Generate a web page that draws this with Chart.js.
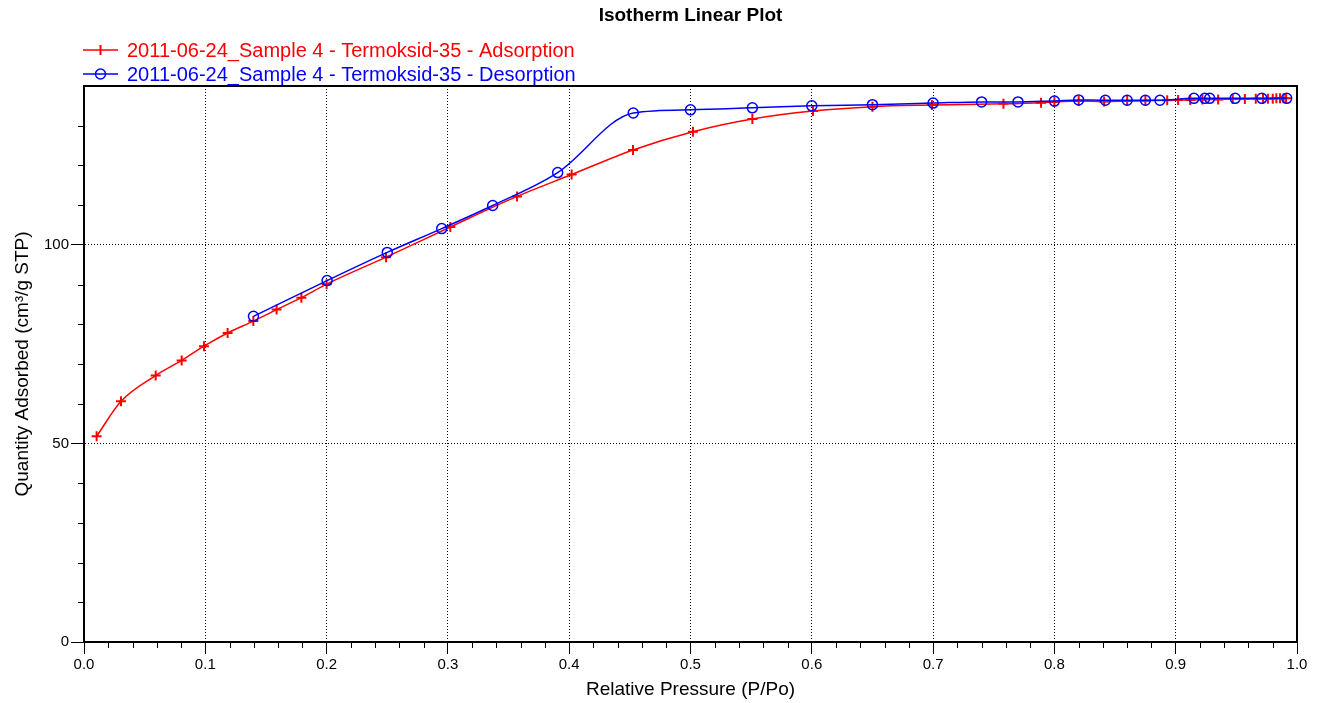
<!DOCTYPE html>
<html>
<head>
<meta charset="utf-8">
<script src="https://cdn.jsdelivr.net/npm/chart.js@4/dist/chart.umd.min.js"></script>
<style>
  body { margin: 0; background: #fff; }
  canvas { display: block; }
</style>
</head>
<body>
<canvas id="grafico" width="1324" height="703"></canvas>
<script>
// datos
const titulo = "Isotherm Linear Plot";
const nombreAds = "2011-06-24_Sample 4 - Termoksid-35 - Adsorption";
const nombreDes = "2011-06-24_Sample 4 - Termoksid-35 - Desorption";

const presionAds = [0.0104, 0.0305, 0.0591, 0.0805, 0.0989, 0.1184, 0.1396, 0.1588, 0.1792, 0.2,
  0.249, 0.302, 0.357, 0.402, 0.4526, 0.502, 0.551, 0.601, 0.65, 0.699,
  0.758, 0.789, 0.8, 0.82, 0.841, 0.86, 0.875, 0.893, 0.902, 0.912,
  0.922, 0.935, 0.947, 0.957, 0.966, 0.972, 0.976, 0.98, 0.983, 0.986, 0.989, 0.991];
const cantidadAds = [51.8, 60.6, 67.1, 70.9, 74.5, 77.8, 80.8, 83.7, 86.7, 90.1,
  96.9, 104.5, 112.2, 117.7, 123.9, 128.5, 131.7, 133.7, 134.8, 135.2,
  135.5, 135.8, 136.0, 136.2, 136.1, 136.2, 136.3, 136.4, 136.5, 136.5,
  136.6, 136.6, 136.7, 136.7, 136.8, 136.8, 136.8, 136.8, 136.9, 136.9, 136.9, 136.9];

const presionDes = [0.1397, 0.2004, 0.25, 0.2949, 0.3369, 0.3905, 0.4528, 0.5, 0.551, 0.6,
  0.65, 0.7, 0.74, 0.77, 0.8, 0.82, 0.842, 0.86, 0.875, 0.887,
  0.915, 0.924, 0.928, 0.949, 0.971, 0.9915];
const cantidadDes = [82.0, 91.0, 98.1, 104.1, 109.9, 118.2, 133.2, 134.0, 134.5, 135.0,
  135.3, 135.7, 136.0, 136.0, 136.2, 136.5, 136.4, 136.4, 136.4, 136.4,
  136.9, 136.9, 136.9, 136.9, 136.9, 136.9];

const ticksX = [0, 0.1, 0.2, 0.3, 0.4, 0.5, 0.6, 0.7, 0.8, 0.9, 1.0];
const ticksY = [0, 50, 100];

const fuente = "'Liberation Sans', Arial, sans-serif";
const rojo = "#ff0000";
const azul = "#0000ff";

function puntos(xs, ys) {
  return xs.map((x, i) => ({ x: x, y: ys[i] }));
}

// ticks menores, marco y leyenda
const extras = {
  id: "extras",
  afterDraw(chart) {
    const ctx = chart.ctx;
    const a = chart.chartArea;
    const sx = chart.scales.x;
    const sy = chart.scales.y;
    ctx.save();
    ctx.strokeStyle = "#000";
    ctx.lineWidth = 1;
    ctx.beginPath();
    for (let i = 1; i < 50; i++) {
      if (i % 5 === 0) continue;
      const px = Math.round(sx.getPixelForValue(i * 0.02)) + 0.5;
      ctx.moveTo(px, a.bottom);
      ctx.lineTo(px, a.bottom + 6);
    }
    for (let v = 10; v < 140; v += 10) {
      if (v % 50 === 0) continue;
      const py = Math.round(sy.getPixelForValue(v)) + 0.5;
      ctx.moveTo(a.left - 6, py);
      ctx.lineTo(a.left, py);
    }
    ctx.stroke();

    ctx.lineWidth = 2;
    ctx.strokeRect(a.left, a.top, a.right - a.left, a.bottom - a.top);

    // titulo
    ctx.fillStyle = "#000";
    ctx.font = "bold 19px " + fuente;
    ctx.textAlign = "center";
    ctx.textBaseline = "middle";
    ctx.fillText(titulo, (a.left + a.right) / 2, 16);

    // leyenda
    ctx.font = "20px " + fuente;
    ctx.textAlign = "left";
    const filas = [
      { y: 50, color: rojo, texto: nombreAds, marca: "cruz" },
      { y: 74, color: azul, texto: nombreDes, marca: "circulo" }
    ];
    filas.forEach(f => {
      ctx.strokeStyle = f.color;
      ctx.lineWidth = 1.5;
      ctx.beginPath();
      ctx.moveTo(83, f.y);
      ctx.lineTo(118, f.y);
      ctx.stroke();
      ctx.beginPath();
      if (f.marca === "cruz") {
        ctx.lineWidth = 2;
        ctx.moveTo(100.5, f.y - 5);
        ctx.lineTo(100.5, f.y + 5);
      } else {
        ctx.arc(100.5, f.y, 5, 0, Math.PI * 2);
      }
      ctx.stroke();
      ctx.fillStyle = f.color;
      ctx.fillText(f.texto, 127, f.y + 1);
    });
    ctx.restore();
  }
};

const ctx = document.getElementById("grafico").getContext("2d");

const chart = new Chart(ctx, {
  type: "scatter",
  data: {
    datasets: [
      {
        label: nombreAds,
        data: puntos(presionAds, cantidadAds),
        showLine: true,
        borderColor: rojo,
        borderWidth: 1.5,
        cubicInterpolationMode: "monotone",
        pointStyle: "cross",
        pointRadius: 5,
        pointBorderWidth: 2,
        pointBorderColor: rojo,
        pointBackgroundColor: rojo,
        order: 1
      },
      {
        label: nombreDes,
        data: puntos(presionDes, cantidadDes),
        showLine: true,
        borderColor: azul,
        borderWidth: 1.5,
        cubicInterpolationMode: "monotone",
        pointStyle: "circle",
        pointRadius: 5,
        pointBorderWidth: 1.5,
        pointBorderColor: azul,
        pointBackgroundColor: "rgba(0,0,0,0)",
        order: 0
      }
    ]
  },
  options: {
    responsive: false,
    devicePixelRatio: 1,
    animation: false,
    layout: { padding: { left: 0, top: 86, right: 27, bottom: 0 } },
    scales: {
      x: {
        type: "linear",
        min: 0,
        max: 1,
        afterFit: s => { s.height = 61; },
        afterBuildTicks: s => { s.ticks = ticksX.map(v => ({ value: v })); },
        ticks: {
          color: "#000",
          padding: 2,
          maxRotation: 0,
          font: { family: fuente, size: 15 },
          callback: v => Number(v).toFixed(1)
        },
        grid: {
          color: "#000",
          lineWidth: 1,
          tickLength: 12,
          tickColor: "#000",
          tickWidth: 1
        },
        border: { display: true, color: "#000", width: 2, dash: [1, 2] },
        title: {
          display: true,
          text: "Relative Pressure (P/Po)",
          color: "#000",
          padding: { top: 0, bottom: 2 },
          font: { family: fuente, size: 19 }
        }
      },
      y: {
        type: "linear",
        min: 0,
        max: 140,
        afterFit: s => { s.width = 84; },
        afterBuildTicks: s => { s.ticks = ticksY.map(v => ({ value: v })); },
        ticks: {
          color: "#000",
          padding: 2,
          font: { family: fuente, size: 15 }
        },
        grid: {
          color: "#000",
          lineWidth: 1,
          tickLength: 13,
          tickColor: "#000",
          tickWidth: 1
        },
        border: { display: true, color: "#000", width: 2, dash: [1, 2] },
        title: {
          display: true,
          text: "Quantity Adsorbed (cm³/g STP)",
          color: "#000",
          padding: { top: 11, bottom: 0 },
          font: { family: fuente, size: 19 }
        }
      }
    },
    plugins: {
      legend: { display: false },
      tooltip: { enabled: false }
    }
  },
  plugins: [extras]
});
</script>
</body>
</html>
